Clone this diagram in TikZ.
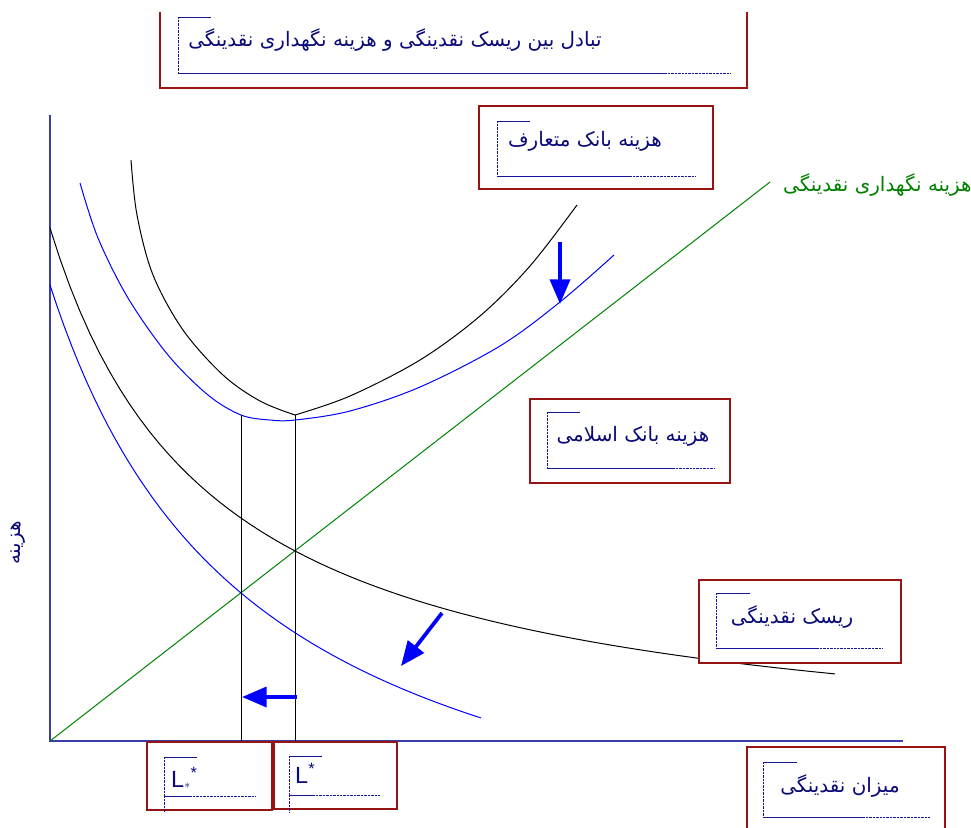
\documentclass[tikz,border=0pt]{standalone}
\usepackage{fontspec}
\setmainfont{DejaVu Sans}
\setsansfont{Liberation Sans}
\newfontfamily\arabicfont[Script=Arabic]{DejaVu Sans}
\TeXXeTstate=1
\usetikzlibrary{arrows.meta}
\usepackage{xcolor}

\definecolor{boxred}{RGB}{150,20,20}
\definecolor{markblue}{RGB}{20,20,150}
\definecolor{axisblue}{RGB}{60,60,170}
\definecolor{textnavy}{RGB}{10,10,120}
\definecolor{costgreen}{RGB}{0,128,0}

% corner mark inside a label box
\newcommand{\cornermark}[6]{%
  \draw[markblue] (#1,#2) -- (#3,#2);
  \draw[markblue, dash pattern=on 0.6pt off 0.6pt] (#1,#2) -- (#1,#4);
  \draw[markblue] (#1,#4) -- (#5,#4);
  \draw[markblue, dash pattern=on 0.6pt off 0.6pt] (#5,#4) -- (#6,#4);
}

\begin{document}
\begin{tikzpicture}[
    x=0.03cm, y=-0.03cm,
    labelbox/.style={draw=boxred, fill=white, line width=1pt},
    fatext/.style={text=textnavy, font=\arabicfont\fontsize{17}{19}\selectfont, inner sep=0pt},
    curve/.style={line width=0.85pt},
    shift arrow/.style={blue, line width=3.2pt,
      -{Triangle[length=21pt, width=17pt]}}
  ]
    \useasboundingbox (0,0) rectangle (971,827);

    % Title box (top edge cut off)
    \draw[labelbox] (160,12) -- (160,88) -- (747,88) -- (747,12);
    \cornermark{178}{17}{211}{73}{665}{730}
    \node[fatext] (title) at (395,40)
      {\beginR تبادل بین ریسک  نقدینگی و هزینه نگهداری نقدینگی\endR};

    % Axes
    \coordinate (origin) at (50,741);
    \coordinate (ytop) at (50,115);
    \coordinate (xend) at (903,741);
    \draw[axisblue, line width=1.3pt] (ytop) -- (origin) -- (xend);
    \node[fatext, rotate=90] (ylabel) at (18,543) {\beginR هزینه\endR};

    % Holding cost (green line)
    \coordinate (holdend) at (770,182);
    \draw[costgreen, curve] (origin) -- (holdend);
    \node[fatext, text=costgreen, anchor=west] (holdlabel) at (783,185)
      {\beginR هزینه نگهداری نقدینگی\endR};

    % Liquidity risk curves
    \draw[curve] plot[domain=50:835, samples=80]
      (\x, {767 - 883.5/((\x+113.9)/100)});
    \draw[blue, curve] plot[domain=50:481, samples=60]
      (\x, {924.5 - 1314.9/((\x+155.6)/100)});

    % Total cost curves
    \draw[curve] plot[smooth, tension=0.55] coordinates {
      (131,160) (137,215) (153,275) (183,330) (223,375) (260,401) (295,415)};
    \draw[curve] plot[smooth, tension=0.55] coordinates {
      (295,415) (350,396) (420,360) (480,316) (530,266) (577,205)};
    \draw[blue, curve] plot[smooth, tension=0.55] coordinates {
      (80,183) (98,238) (128,298) (168,355) (208,395) (241,415)
      (270,420) (295,420) (350,411) (420,387) (500,346) (560,302) (614,255)};

    % Optimal liquidity levels
    \coordinate (lstarislamic) at (241,741);
    \coordinate (lstar) at (295,741);
    \draw[curve] (241,415) -- (lstarislamic);
    \draw[curve] (295,415) -- (lstar);

    % Shift arrows
    \coordinate (a1s) at (560,242);
    \coordinate (a1e) at (560,304);
    \coordinate (a2s) at (442,613);
    \coordinate (a2e) at (401,666);
    \coordinate (a3s) at (297,697);
    \coordinate (a3e) at (242,697);
    \draw[shift arrow] (a1s) -- (a1e);
    \draw[shift arrow] (a2s) -- (a2e);
    \draw[shift arrow] (a3s) -- (a3e);

    % Conventional bank cost
    \draw[labelbox] (479,106) rectangle (713,189);
    \cornermark{497}{121}{530}{176}{630}{695}
    \node[fatext] (convlabel) at (585,141) {\beginR هزینه بانک متعارف\endR};

    % Islamic bank cost
    \draw[labelbox] (530,399) rectangle (730,483);
    \cornermark{547}{412}{580}{468}{673}{715}
    \node[fatext] (islamlabel) at (633,436) {\beginR هزینه بانک اسلامی\endR};

    % Liquidity risk
    \draw[labelbox] (699,580) rectangle (901,663);
    \cornermark{716}{593}{750}{648}{817}{883}
    \node[fatext] (risklabel) at (792,617) {\beginR ریسک نقدینگی\endR};

    % Liquidity amount
    \draw[labelbox] (747,830) -- (747,747) -- (945,747) -- (945,830);
    \cornermark{763}{762}{797}{817}{863}{930}
    \node[fatext] (xlabel) at (840,786) {\beginR میزان نقدینگی\endR};

    % L boxes
    \draw[labelbox] (147,742) rectangle (272,810);
    \cornermark{164}{757}{197}{796}{190}{255}
    \draw[markblue, dash pattern=on 0.6pt off 0.6pt] (164,796) -- (164,812);
    \node[text=textnavy, font=\sffamily\fontsize{20}{22}\selectfont, anchor=west, inner sep=0pt]
      (lislamic) at (171,779) {L\textsubscript{\raisebox{0.3ex}{\normalsize$\ast$}}\textsuperscript{*}};

    \draw[labelbox] (274,742) rectangle (397,809);
    \cornermark{289}{756}{322}{795}{313}{380}
    \draw[markblue, dash pattern=on 0.6pt off 0.6pt] (289,795) -- (289,812);
    \node[text=textnavy, font=\sffamily\fontsize{20}{22}\selectfont, anchor=west, inner sep=0pt]
      (lconv) at (295,773) {L\textsuperscript{*}};

\end{tikzpicture}
\end{document}
